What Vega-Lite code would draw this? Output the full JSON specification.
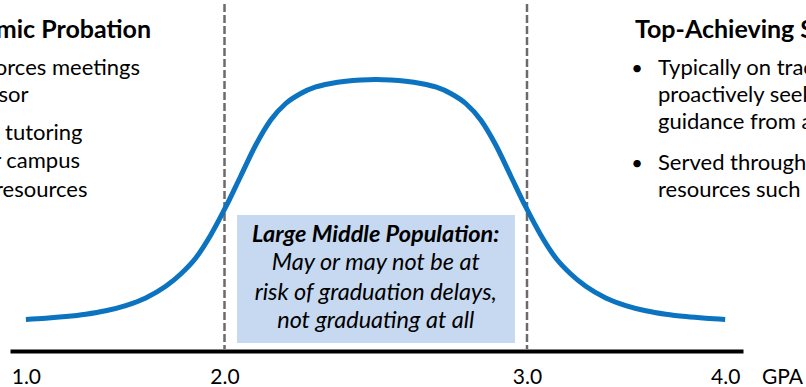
{
  "$schema": "https://vega.github.io/schema/vega-lite/v6.json",
  "width": 806,
  "height": 351,
  "autosize": {"type": "none"},
  "padding": {"left": 0, "top": 0, "right": 0, "bottom": 36},
  "background": "white",
  "config": {
    "view": {"stroke": null},
    "font": "Lato",
    "axisX": {
      "ticks": false, "tickSize": 0, "grid": false,
      "domainColor": "#000000", "domainWidth": 4,
      "labelFont": "Lato", "labelFontSize": 21, "labelColor": "#000000",
      "labelBaseline": "alphabetic", "labelPadding": 32, "labelFlush": false, "labelOverlap": false,
      "titleFont": "Lato", "titleFontSize": 21, "titleFontWeight": "normal", "titleColor": "#000000"
    }
  },
  "datasets": {
    "curve": [
      {"gpa": 1.0, "share": 0},
      {"gpa": 1.1, "share": 0.005},
      {"gpa": 1.2007, "share": 0.0121},
      {"gpa": 1.3014, "share": 0.0221},
      {"gpa": 1.4021, "share": 0.0367},
      {"gpa": 1.5028, "share": 0.0583},
      {"gpa": 1.6035, "share": 0.0900},
      {"gpa": 1.7042, "share": 0.1383},
      {"gpa": 1.7797, "share": 0.1896},
      {"gpa": 1.8553, "share": 0.2563},
      {"gpa": 1.9308, "share": 0.3521},
      {"gpa": 2.0041, "share": 0.4688},
      {"gpa": 2.0537, "share": 0.5979},
      {"gpa": 2.1033, "share": 0.7271},
      {"gpa": 2.1529, "share": 0.8313},
      {"gpa": 2.2025, "share": 0.9000},
      {"gpa": 2.2521, "share": 0.9417},
      {"gpa": 2.3017, "share": 0.9688},
      {"gpa": 2.3512, "share": 0.9833},
      {"gpa": 2.4008, "share": 0.9925},
      {"gpa": 2.4504, "share": 0.9979},
      {"gpa": 2.5, "share": 1.0},
      {"gpa": 2.5496, "share": 0.9979},
      {"gpa": 2.5992, "share": 0.9925},
      {"gpa": 2.6488, "share": 0.9833},
      {"gpa": 2.6983, "share": 0.9688},
      {"gpa": 2.7479, "share": 0.9417},
      {"gpa": 2.7975, "share": 0.9000},
      {"gpa": 2.8471, "share": 0.8313},
      {"gpa": 2.8967, "share": 0.7271},
      {"gpa": 2.9463, "share": 0.5979},
      {"gpa": 2.9959, "share": 0.4688},
      {"gpa": 3.0694, "share": 0.3521},
      {"gpa": 3.1451, "share": 0.2563},
      {"gpa": 3.2208, "share": 0.1896},
      {"gpa": 3.2965, "share": 0.1383},
      {"gpa": 3.3974, "share": 0.0900},
      {"gpa": 3.4983, "share": 0.0583},
      {"gpa": 3.5992, "share": 0.0367},
      {"gpa": 3.7001, "share": 0.0221},
      {"gpa": 3.8011, "share": 0.0121},
      {"gpa": 3.9020, "share": 0.005},
      {"gpa": 4.0, "share": 0}
    ],
    "cutoffs": [
      {"gpa": 2.0, "top": 1.3146, "bottom": -0.1229},
      {"gpa": 3.0, "top": 1.3146, "bottom": -0.1229}
    ],
    "box": [
      {"gpa": 2.0413, "gpa_end": 2.9603, "share": 0.4354, "share_end": -0.0979}
    ],
    "boxText": [
      {"role": "heading", "text": "Large Middle Population:", "gpa": 2.5, "share": 0.325},
      {"role": "body", "text": "May or may not be at", "gpa": 2.5, "share": 0.2063},
      {"role": "body", "text": "risk of graduation delays,", "gpa": 2.5, "share": 0.0833},
      {"role": "body", "text": "not graduating at all", "gpa": 2.5, "share": -0.0354}
    ],
    "leftText": [
      {"role": "title", "text": "Academic Probation", "gpa": 1.630, "share": 1.1729},
      {"role": "body", "text": "Enforces meetings", "gpa": 1.5745, "share": 1.0188},
      {"role": "body", "text": "with an advisor", "gpa": 1.0131, "share": 0.9075},
      {"role": "body", "text": "Referred to tutoring", "gpa": 1.2850, "share": 0.7479},
      {"role": "body", "text": "and other campus", "gpa": 1.2724, "share": 0.6313},
      {"role": "body", "text": "support resources", "gpa": 1.3102, "share": 0.5104}
    ],
    "rightText": [
      {"role": "title", "text": "Top-Achieving Students", "gpa": 3.545, "share": 1.1729},
      {"role": "bullet", "text": "•", "gpa": 3.555, "share": 1.0188},
      {"role": "bullet", "text": "•", "gpa": 3.555, "share": 0.6229},
      {"role": "body", "text": "Typically on track and", "gpa": 3.661, "share": 1.0188},
      {"role": "body", "text": "proactively seek", "gpa": 3.661, "share": 0.9083},
      {"role": "body", "text": "guidance from advisors", "gpa": 3.661, "share": 0.7958},
      {"role": "body", "text": "Served through campus", "gpa": 3.661, "share": 0.6229},
      {"role": "body", "text": "resources such as advising", "gpa": 3.661, "share": 0.5104}
    ]
  },
  "layer": [
    {
      "data": {"name": "cutoffs"},
      "mark": {"type": "rule", "color": "#6b6b6b", "strokeWidth": 2.5, "strokeDash": [8, 3]},
      "encoding": {
        "x": {"field": "gpa", "type": "quantitative"},
        "y": {"field": "top", "type": "quantitative", "axis": null},
        "y2": {"field": "bottom"}
      }
    },
    {
      "data": {"name": "box"},
      "mark": {"type": "rect", "color": "#C6D9F0"},
      "encoding": {
        "x": {"field": "gpa", "type": "quantitative"},
        "x2": {"field": "gpa_end"},
        "y": {"field": "share", "type": "quantitative", "axis": null},
        "y2": {"field": "share_end"}
      }
    },
    {
      "data": {"name": "curve"},
      "mark": {"type": "line", "color": "#0B73C0", "strokeWidth": 5, "interpolate": "monotone", "strokeCap": "butt"},
      "encoding": {
        "x": {
          "field": "gpa", "type": "quantitative",
          "scale": {"domain": [0.92, 2, 3, 4.09], "range": [10, 224.5, 527, 743], "nice": false, "zero": false},
          "axis": {
            "values": [1, 2, 3, 4], "format": ".1f",
            "title": "GPA", "titleX": 782, "titleY": 32, "titleAlign": "center", "titleBaseline": "alphabetic", "titleAngle": 0
          }
        },
        "y": {
          "field": "share", "type": "quantitative",
          "scale": {"domain": [-0.13125, 1.33125], "nice": false, "zero": false},
          "axis": null
        }
      }
    },
    {
      "data": {"name": "boxText"},
      "transform": [{"filter": "datum.role === 'heading'"}],
      "mark": {"type": "text", "font": "Lato", "fontSize": 23.5, "fontWeight": "bold", "fontStyle": "italic", "align": "center", "baseline": "alphabetic", "color": "#000000"},
      "encoding": {
        "x": {"field": "gpa", "type": "quantitative"},
        "y": {"field": "share", "type": "quantitative", "axis": null},
        "text": {"field": "text"}
      }
    },
    {
      "data": {"name": "boxText"},
      "transform": [{"filter": "datum.role === 'body'"}],
      "mark": {"type": "text", "font": "Lato", "fontSize": 23.5, "fontStyle": "italic", "align": "center", "baseline": "alphabetic", "color": "#000000"},
      "encoding": {
        "x": {"field": "gpa", "type": "quantitative"},
        "y": {"field": "share", "type": "quantitative", "axis": null},
        "text": {"field": "text"}
      }
    },
    {
      "data": {"name": "leftText"},
      "transform": [{"filter": "datum.role === 'title'"}],
      "mark": {"type": "text", "font": "Lato", "fontSize": 25, "fontWeight": "bold", "align": "right", "baseline": "alphabetic", "color": "#000000"},
      "encoding": {
        "x": {"field": "gpa", "type": "quantitative"},
        "y": {"field": "share", "type": "quantitative", "axis": null},
        "text": {"field": "text"}
      }
    },
    {
      "data": {"name": "leftText"},
      "transform": [{"filter": "datum.role === 'body'"}],
      "mark": {"type": "text", "font": "Lato", "fontSize": 22, "align": "right", "baseline": "alphabetic", "color": "#000000"},
      "encoding": {
        "x": {"field": "gpa", "type": "quantitative"},
        "y": {"field": "share", "type": "quantitative", "axis": null},
        "text": {"field": "text"}
      }
    },
    {
      "data": {"name": "rightText"},
      "transform": [{"filter": "datum.role === 'title'"}],
      "mark": {"type": "text", "font": "Lato", "fontSize": 25, "fontWeight": "bold", "align": "left", "baseline": "alphabetic", "color": "#000000"},
      "encoding": {
        "x": {"field": "gpa", "type": "quantitative"},
        "y": {"field": "share", "type": "quantitative", "axis": null},
        "text": {"field": "text"}
      }
    },
    {
      "data": {"name": "rightText"},
      "transform": [{"filter": "datum.role === 'bullet'"}],
      "mark": {"type": "text", "font": "Lato", "fontSize": 20, "align": "center", "baseline": "alphabetic", "color": "#000000"},
      "encoding": {
        "x": {"field": "gpa", "type": "quantitative"},
        "y": {"field": "share", "type": "quantitative", "axis": null},
        "text": {"field": "text"}
      }
    },
    {
      "data": {"name": "rightText"},
      "transform": [{"filter": "datum.role === 'body'"}],
      "mark": {"type": "text", "font": "Lato", "fontSize": 22, "align": "left", "baseline": "alphabetic", "color": "#000000"},
      "encoding": {
        "x": {"field": "gpa", "type": "quantitative"},
        "y": {"field": "share", "type": "quantitative", "axis": null},
        "text": {"field": "text"}
      }
    }
  ]
}
